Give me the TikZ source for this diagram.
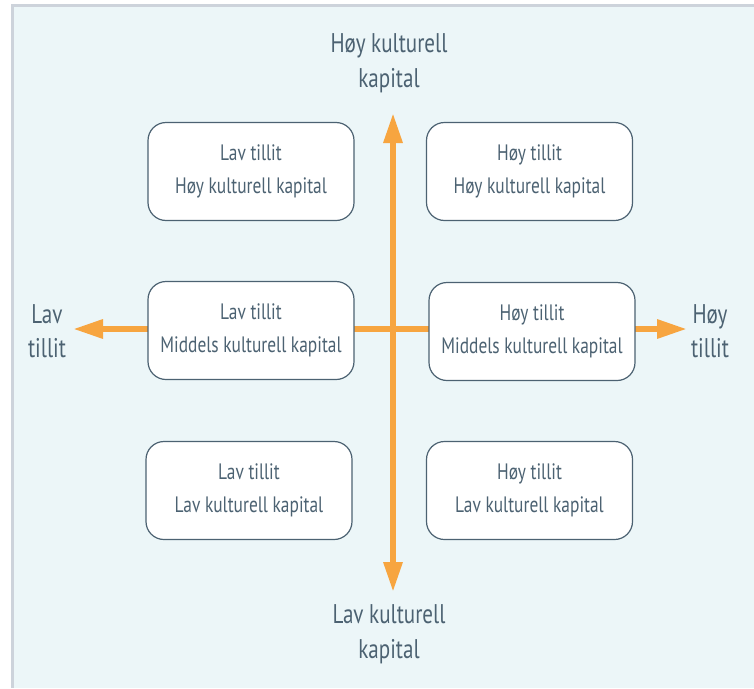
\documentclass[tikz,border=0pt]{standalone}
\usepackage{fontspec}
\setmainfont{PT Sans}[FakeStretch=0.78]
\usepackage{xcolor}
\usetikzlibrary{arrows.meta,positioning}
\definecolor{bgblue}{HTML}{ECF6F8}
\definecolor{framegray}{HTML}{CDD3DB}
\definecolor{axisorange}{HTML}{F7A540}
\definecolor{slate}{HTML}{4C6272}

\begin{document}
\begin{tikzpicture}[x=1pt,y=-1pt,
cell/.style={draw=slate,line width=1.2pt,fill=white,rounded corners=18pt,minimum width=206pt,minimum height=98pt,align=center,text=slate,font=\fontsize{22.3}{32.5}\selectfont},
axislabel/.style={text=slate,align=center,font=\fontsize{27}{34.5}\selectfont},
axis/.style={axisorange,line width=6pt,{Triangle[length=30pt,width=18pt]}-{Triangle[length=30pt,width=18pt]}}]
\useasboundingbox (0,0) rectangle (754,688);
%background panel
\fill[framegray] (11,4) rectangle (754,688);
\fill[bgblue] (14,7) rectangle (754,688);
%axes
\coordinate (ltip) at (73,329);
\coordinate (rtip) at (687,329);
\coordinate (ttip) at (393,113);
\coordinate (btip) at (393,592);
\draw[axis] (ltip) -- (rtip);
\draw[axis] (btip) -- (ttip);
%cells
\node[cell] (tl) at (251,171.5) {Lav tillit\\Høy kulturell kapital};
\node[cell] (tr) at (529.5,171.5) {Høy tillit\\Høy kulturell kapital};
\node[cell] (ml) at (251,330.5) {Lav tillit\\Middels kulturell kapital};
\node[cell] (mr) at (532,331.5) {Høy tillit\\Middels kulturell kapital};
\node[cell] (bl) at (249,490.5) {Lav tillit\\Lav kulturell kapital};
\node[cell] (br) at (529.5,490.5) {Høy tillit\\Lav kulturell kapital};
%axis labels
\node[axislabel] (hkk) at (389,63) {Høy kulturell\\kapital};
\node[axislabel] (lkk) at (389,634) {Lav kulturell\\kapital};
\node[axislabel] (lt) at (47,331) {Lav\\tillit};
\node[axislabel] (ht) at (710,331) {Høy\\tillit};
\end{tikzpicture}
\end{document}
